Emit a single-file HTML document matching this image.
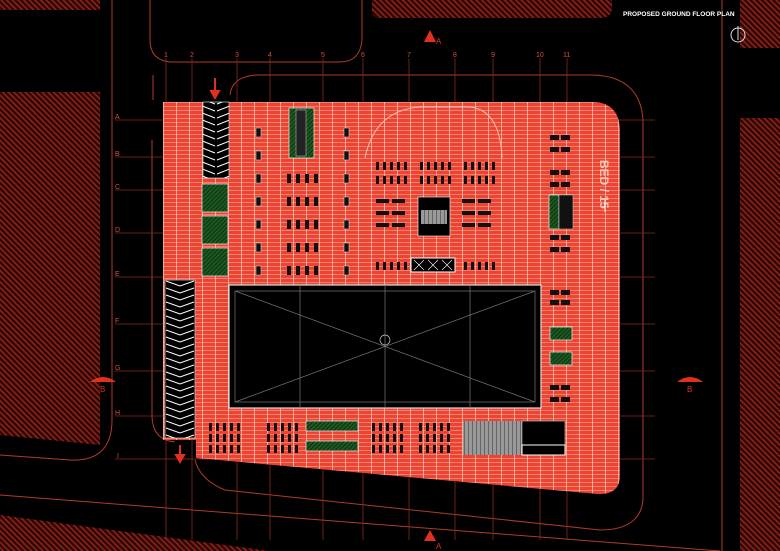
<!DOCTYPE html>
<html><head><meta charset="utf-8"><style>html,body{margin:0;padding:0;background:#000;}svg{display:block}</style></head><body>
<svg width="780" height="551" viewBox="0 0 780 551" xmlns="http://www.w3.org/2000/svg">
<defs>
<pattern id="h" width="4" height="4" patternUnits="userSpaceOnUse" patternTransform="rotate(-45)">
<rect width="4" height="4" fill="#2e0806"/><rect width="1.4" height="4" fill="#962418"/></pattern>
<pattern id="fl" width="13" height="4" patternUnits="userSpaceOnUse" x="163" y="102">
<rect width="13" height="4" fill="#ec4432"/><rect width="13" height="0.7" fill="#f59a88"/><rect width="0.8" height="4" fill="#f8c0b0"/></pattern>
<pattern id="gr" width="3" height="3" patternUnits="userSpaceOnUse" patternTransform="rotate(45)">
<rect width="3" height="3" fill="#1d5a22"/><rect width="1" height="3" fill="#0c3010"/></pattern>
<pattern id="chev" width="27" height="7" patternUnits="userSpaceOnUse">
<path d="M1 6 L13.5 1 L26 6" stroke="#fff" stroke-width="1" fill="none"/></pattern>
<pattern id="chev2" width="30" height="7" patternUnits="userSpaceOnUse" x="165">
<path d="M1 1 L15 6 L29 1" stroke="#fff" stroke-width="1" fill="none"/></pattern>
<pattern id="win" width="4" height="4" patternUnits="userSpaceOnUse"><rect width="4" height="4" fill="#999"/><rect width="1" height="4" fill="#666"/></pattern>
</defs>
<path d="M0 92 H100 V445 L0 435Z" fill="url(#h)"/>
<path d="M0 0 H100 V10 H0Z" fill="url(#h)"/>
<path d="M372 0 H612 V8 Q612 18 600 18 H380 Q372 18 372 10Z" fill="url(#h)"/>
<path d="M740 0 H780 V48 H740Z" fill="url(#h)"/>
<path d="M740 118 H780 V551 H740Z" fill="url(#h)"/>
<path d="M0 515 L270 551 H0Z" fill="url(#h)"/>
<g stroke="#b03a2a" stroke-width="1" fill="none">
<path d="M112 0 V420 Q112 462 70 460 L0 455"/>
<path d="M150 0 V40 Q150 60 170 62 H340 Q360 62 362 40 V0"/>
<path d="M722 0 V551"/>
<path d="M0 495 L720 551"/>
<path d="M153 75 Q153 85 153 100"/><path d="M152 140 V415 Q152 440 175 442"/>
<path d="M230 95 Q232 76 258 75 H590 Q640 75 643 120 V500 Q640 530 600 530"/>
<path d="M195 460 Q200 480 225 490 L600 530"/>
</g>
<g stroke="#8a2a20" stroke-width="0.8">
<line x1="166" y1="58" x2="166" y2="540"/><line x1="192" y1="58" x2="192" y2="540"/>
<line x1="237" y1="58" x2="237" y2="540"/><line x1="270" y1="58" x2="270" y2="540"/>
<line x1="323" y1="58" x2="323" y2="540"/><line x1="363" y1="58" x2="363" y2="540"/>
<line x1="409" y1="58" x2="409" y2="540"/><line x1="455" y1="58" x2="455" y2="540"/>
<line x1="493" y1="58" x2="493" y2="540"/><line x1="540" y1="58" x2="540" y2="540"/>
<line x1="567" y1="58" x2="567" y2="540"/>
<line x1="115" y1="120" x2="655" y2="120"/><line x1="115" y1="157" x2="655" y2="157"/>
<line x1="115" y1="190" x2="655" y2="190"/><line x1="115" y1="233" x2="655" y2="233"/>
<line x1="115" y1="277" x2="655" y2="277"/><line x1="115" y1="324" x2="655" y2="324"/>
<line x1="115" y1="371" x2="655" y2="371"/><line x1="115" y1="416" x2="655" y2="416"/>
<line x1="115" y1="459" x2="655" y2="459"/>
</g>
<g fill="#d0503c" font-family="Liberation Sans, sans-serif" font-size="7">
<text x="164" y="57">1</text><text x="190" y="57">2</text><text x="235" y="57">3</text><text x="268" y="57">4</text><text x="321" y="57">5</text><text x="361" y="57">6</text><text x="407" y="57">7</text><text x="453" y="57">8</text><text x="491" y="57">9</text><text x="536" y="57">10</text><text x="563" y="57">11</text>
<text x="115" y="119">A</text><text x="115" y="156">B</text><text x="115" y="189">C</text><text x="115" y="232">D</text><text x="115" y="276">E</text><text x="115" y="323">F</text><text x="115" y="370">G</text><text x="115" y="415">H</text><text x="117" y="458">I</text>
</g>
<path d="M163 102 H592 Q620 102 620 132 V475 Q620 495 598 494 L196 458 V440 H163Z" fill="url(#fl)"/>
<rect x="229" y="285" width="312" height="123" fill="#000" stroke="#ddd" stroke-width="1.2"/>
<g stroke="#777" stroke-width="0.7" fill="none">
<line x1="235" y1="291" x2="535" y2="402"/><line x1="235" y1="402" x2="535" y2="291"/>
<rect x="235" y="291" width="300" height="111"/>
<line x1="300" y1="285" x2="300" y2="408"/><line x1="385" y1="285" x2="385" y2="408"/><line x1="470" y1="285" x2="470" y2="408"/>
<circle cx="385" cy="340" r="5" stroke="#ccc"/></g>
<rect x="203" y="102" width="26" height="76" fill="#000" stroke="#ccc" stroke-width="0.7"/>
<rect x="203" y="102" width="26" height="76" fill="url(#chev)"/>
<rect x="165" y="280" width="30" height="158" fill="#000" stroke="#ccc" stroke-width="0.7"/>
<rect x="165" y="280" width="30" height="158" fill="url(#chev2)"/>
<g fill="url(#gr)" stroke="#ddd" stroke-width="0.8">
<rect x="202" y="184" width="26" height="28"/><rect x="202" y="216" width="26" height="28"/><rect x="202" y="248" width="26" height="28"/>
<rect x="289" y="108" width="25" height="50"/>
<rect x="549" y="195" width="10" height="34"/>
<rect x="550" y="327" width="22" height="13"/><rect x="550" y="352" width="22" height="13"/>
<rect x="306" y="421" width="52" height="10"/><rect x="306" y="441" width="52" height="10"/>
</g>
<rect x="296" y="110" width="10" height="46" fill="#222" stroke="#ccc" stroke-width="0.5"/>
<rect x="559" y="195" width="14" height="34" fill="#111" stroke="#ccc" stroke-width="0.5"/>
<path d="M365 158 Q375 110 420 107 H470 Q500 110 502 158" stroke="#f4c0b0" fill="none"/>
<rect x="418" y="197" width="32" height="39" fill="#000" stroke="#fff" stroke-width="0.6"/>
<rect x="421" y="210" width="26" height="14" fill="url(#win)"/>
<rect x="411" y="258" width="44" height="14" fill="#000" stroke="#fff"/>
<g stroke="#fff" stroke-width="0.6"><path d="M414 260 l10 10 m0 -10 l-10 10 M428 260 l10 10 m0 -10 l-10 10 M442 260 l10 10 m0 -10 l-10 10"/></g>
<rect x="463" y="421" width="59" height="34" fill="url(#win)"/>
<rect x="522" y="421" width="43" height="34" fill="#000" stroke="#ccc" stroke-width="0.6"/>
<rect x="522" y="445" width="43" height="10" fill="#000" stroke="#fff"/>
<g fill="#111" stroke="#ddd" stroke-width="0.5">
<rect x="256" y="128" width="5" height="9"/><rect x="256" y="151" width="5" height="9"/><rect x="256" y="174" width="5" height="9"/><rect x="256" y="197" width="5" height="9"/><rect x="256" y="220" width="5" height="9"/><rect x="256" y="243" width="5" height="9"/><rect x="256" y="266" width="5" height="9"/>
<rect x="344" y="128" width="5" height="9"/><rect x="344" y="151" width="5" height="9"/><rect x="344" y="174" width="5" height="9"/><rect x="344" y="197" width="5" height="9"/><rect x="344" y="220" width="5" height="9"/><rect x="344" y="243" width="5" height="9"/><rect x="344" y="266" width="5" height="9"/>
</g>
<g fill="#111">
<g id="c4"><rect x="287" y="174" width="4" height="9"/><rect x="296" y="174" width="4" height="9"/><rect x="305" y="174" width="4" height="9"/><rect x="314" y="174" width="4" height="9"/></g>
<use href="#c4" y="23"/><use href="#c4" y="46"/><use href="#c4" y="69"/><use href="#c4" y="92"/>
<g id="r5"><rect x="376" y="162" width="3" height="8"/><rect x="383" y="162" width="3" height="8"/><rect x="390" y="162" width="3" height="8"/><rect x="397" y="162" width="3" height="8"/><rect x="404" y="162" width="3" height="8"/></g>
<use href="#r5" y="14"/><use href="#r5" x="44"/><use href="#r5" x="44" y="14"/><use href="#r5" x="88"/><use href="#r5" x="88" y="14"/><use href="#r5" y="100"/><use href="#r5" x="88" y="100"/>
<rect x="376" y="199" width="13" height="4"/><rect x="392" y="199" width="13" height="4"/><rect x="376" y="211" width="13" height="4"/><rect x="392" y="211" width="13" height="4"/><rect x="376" y="223" width="13" height="4"/><rect x="392" y="223" width="13" height="4"/>
<rect x="462" y="199" width="13" height="4"/><rect x="478" y="199" width="13" height="4"/><rect x="462" y="211" width="13" height="4"/><rect x="478" y="211" width="13" height="4"/><rect x="462" y="223" width="13" height="4"/><rect x="478" y="223" width="13" height="4"/>
<g id="p2"><rect x="550" y="135" width="9" height="5"/><rect x="561" y="135" width="9" height="5"/></g>
<use href="#p2" y="12"/><use href="#p2" y="35"/><use href="#p2" y="47"/><use href="#p2" y="100"/><use href="#p2" y="112"/><use href="#p2" y="155"/><use href="#p2" y="165"/><use href="#p2" y="250"/><use href="#p2" y="262"/>
<g id="b5"><rect x="209" y="423" width="3" height="8"/><rect x="216" y="423" width="3" height="8"/><rect x="223" y="423" width="3" height="8"/><rect x="230" y="423" width="3" height="8"/><rect x="237" y="423" width="3" height="8"/></g>
<use href="#b5" y="11"/><use href="#b5" y="22"/><use href="#b5" x="58"/><use href="#b5" x="58" y="11"/><use href="#b5" x="58" y="22"/>
<use href="#b5" x="163"/><use href="#b5" x="163" y="11"/><use href="#b5" x="163" y="22"/><use href="#b5" x="210"/><use href="#b5" x="210" y="11"/><use href="#b5" x="210" y="22"/>
</g>
<text x="600" y="160" transform="rotate(90 600 160)" fill="#f6c8b8" font-family="Liberation Sans, sans-serif" font-size="12" font-weight="bold">BED / 15</text>
<path d="M605 200 V212" stroke="#fff"/>
<g stroke="#e03020" stroke-width="2" fill="#e03020"><line x1="215" y1="78" x2="215" y2="92"/><path d="M211 91 L215 98 L219 91Z"/>
<line x1="180" y1="445" x2="180" y2="456"/><path d="M176 455 L180 462 L184 455Z"/></g>
<g fill="#e03020">
<path d="M424 42 L430 30 L436 42Z"/><path d="M424 541 L430 530 L436 541Z"/>
<path d="M90 382 Q103 372 116 382Z"/><path d="M677 382 Q690 372 703 382Z"/></g>
<g fill="#e03020" font-family="Liberation Sans, sans-serif" font-size="8"><text x="436" y="44">A</text><text x="436" y="549">A</text><text x="100" y="392">B</text><text x="687" y="392">B</text></g>
<text x="623" y="16" fill="#fff" font-family="Liberation Sans, sans-serif" font-size="6.5" font-weight="bold">PROPOSED GROUND FLOOR PLAN</text>
<circle cx="738" cy="35" r="7" stroke="#ddd" fill="none"/><line x1="738" y1="26" x2="738" y2="40" stroke="#ddd"/>
</svg>
</body></html>
